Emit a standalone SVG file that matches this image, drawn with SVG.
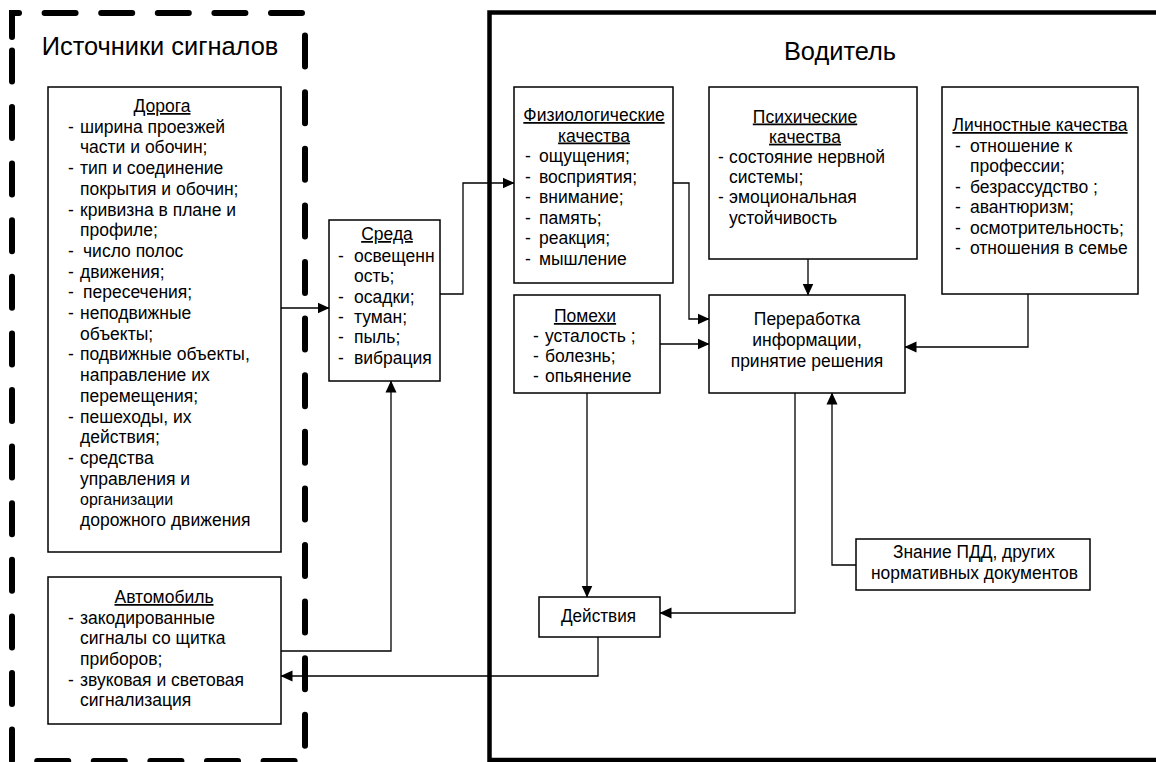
<svg xmlns="http://www.w3.org/2000/svg" width="1156" height="762" viewBox="0 0 1156 762">
<style>
.box{fill:#fff;stroke:#000;stroke-width:1.5}
.t{font-family:"Liberation Sans",Arial,sans-serif;font-size:17.5px;fill:#000}
.s{font-size:16px}
.n{font-size:18px}
.ttl{font-family:"Liberation Sans",Arial,sans-serif;font-size:25.4px;fill:#000}
.u{text-decoration:underline}
.m{text-anchor:middle}
.c{fill:none;stroke:#000;stroke-width:1.3;marker-end:url(#ah)}
</style>
<defs>
<marker id="ah" markerUnits="userSpaceOnUse" markerWidth="12" markerHeight="12" viewBox="0 0 12 12" refX="11.5" refY="6" orient="auto">
<path d="M0,0.5 L12,6 L0,11.5 Z" fill="#000"/>
</marker>
</defs>
<rect width="1156" height="762" fill="#fff"/>

<g id="sources-frame">
<path d="M12,37 V13 H305 V761 H12 Z" fill="none" stroke="#000" stroke-width="6" stroke-linecap="round" stroke-dasharray="31 25.6"/>
<text class="ttl m" x="160" y="55">Источники сигналов</text>
</g>

<g id="driver-frame">
<rect x="489.5" y="12.5" width="720" height="747.5" fill="none" stroke="#000" stroke-width="4.5"/>
<text class="ttl m" x="840" y="60">Водитель</text>
</g>

<g id="road">
<rect class="box" x="48" y="87" width="233" height="465"/>
<text class="t m u" x="162" y="112">Дорога</text>
<text class="t">
<tspan x="68" y="132.7">-</tspan><tspan x="80">ширина проезжей</tspan>
<tspan x="80" y="153.4">части и обочин;</tspan>
<tspan x="68" y="174.1">-</tspan><tspan x="80">тип и соединение</tspan>
<tspan x="80" y="194.8">покрытия и обочин;</tspan>
<tspan x="68" y="215.5">-</tspan><tspan x="80">кривизна в плане и</tspan>
<tspan x="80" y="236.2">профиле;</tspan>
<tspan x="68" y="256.9">-</tspan><tspan x="83">число полос</tspan>
<tspan x="68" y="277.6">-</tspan><tspan x="80">движения;</tspan>
<tspan x="68" y="298.3">-</tspan><tspan x="83">пересечения;</tspan>
<tspan x="68" y="319">-</tspan><tspan x="80">неподвижные</tspan>
<tspan x="80" y="339.7">объекты;</tspan>
<tspan x="68" y="360.4">-</tspan><tspan x="80">подвижные объекты,</tspan>
<tspan x="80" y="381.1">направление их</tspan>
<tspan x="80" y="401.8">перемещения;</tspan>
<tspan x="68" y="422.5">-</tspan><tspan x="80">пешеходы, их</tspan>
<tspan x="80" y="443.2">действия;</tspan>
<tspan x="68" y="463.9">-</tspan><tspan x="80">средства</tspan>
<tspan x="80" y="484.6">управления и</tspan>
<tspan x="80" y="526">дорожного движения</tspan>
</text>
<text class="t s" x="80" y="505.3">организации</text>
</g>

<g id="car">
<rect class="box" x="48" y="577" width="233" height="147"/>
<text class="t m u" x="164" y="603">Автомобиль</text>
<text class="t">
<tspan x="68" y="623.5">-</tspan><tspan x="80">закодированные</tspan>
<tspan x="80" y="644.2">сигналы со щитка</tspan>
<tspan x="80" y="664.9">приборов;</tspan>
<tspan x="68" y="685.6">-</tspan><tspan x="80">звуковая и световая</tspan>
<tspan x="80" y="706.3">сигнализация</tspan>
</text>
</g>

<g id="environment">
<rect class="box" x="329" y="220" width="111" height="161"/>
<text class="t m u" x="387" y="240">Среда</text>
<text class="t">
<tspan x="338" y="262">-</tspan><tspan x="354">освещенн</tspan>
<tspan x="354" y="282.3">ость;</tspan>
<tspan x="338" y="302.6">-</tspan><tspan x="354">осадки;</tspan>
<tspan x="338" y="322.9">-</tspan><tspan x="354">туман;</tspan>
<tspan x="338" y="343.2">-</tspan><tspan x="354">пыль;</tspan>
<tspan x="338" y="363.5">-</tspan><tspan x="354">вибрация</tspan>
</text>
</g>

<g id="physio">
<rect class="box" x="514" y="87" width="159" height="196"/>
<text class="t m u" x="594" y="121">Физиологические</text>
<text class="t m u" x="594" y="141.5">качества</text>
<text class="t">
<tspan x="525" y="162">-</tspan><tspan x="539">ощущения;</tspan>
<tspan x="525" y="182.5">-</tspan><tspan x="539">восприятия;</tspan>
<tspan x="525" y="203">-</tspan><tspan x="539">внимание;</tspan>
<tspan x="525" y="223.5">-</tspan><tspan x="539">память;</tspan>
<tspan x="525" y="244">-</tspan><tspan x="539">реакция;</tspan>
<tspan x="525" y="264.5">-</tspan><tspan x="539">мышление</tspan>
</text>
</g>

<g id="psych">
<rect class="box" x="709" y="87" width="208" height="172"/>
<text class="t m u" x="805" y="122.5">Психические</text>
<text class="t m u" x="805" y="142.7">качества</text>
<text class="t">
<tspan x="718" y="162.9">-</tspan><tspan x="729">состояние нервной</tspan>
<tspan x="729" y="183.1">системы;</tspan>
<tspan x="718" y="203.3">-</tspan><tspan x="729">эмоциональная</tspan>
<tspan x="729" y="223.5">устойчивость</tspan>
</text>
</g>

<g id="personal">
<rect class="box" x="942" y="87" width="196" height="207"/>
<text class="t m u" x="1040" y="131">Личностные качества</text>
<text class="t">
<tspan x="955" y="151.5">-</tspan><tspan x="970">отношение к</tspan>
<tspan x="970" y="172">профессии;</tspan>
<tspan x="955" y="192.5">-</tspan><tspan x="970">безрассудство ;</tspan>
<tspan x="955" y="213">-</tspan><tspan x="970">авантюризм;</tspan>
<tspan x="955" y="233.5">-</tspan><tspan x="970">осмотрительность;</tspan>
<tspan x="955" y="254">-</tspan><tspan x="970">отношения в семье</tspan>
</text>
</g>

<g id="interference">
<rect class="box" x="514" y="295" width="146" height="98"/>
<text class="t m u" x="585" y="322">Помехи</text>
<text class="t">
<tspan x="533" y="342">-</tspan><tspan x="545">усталость ;</tspan>
<tspan x="533" y="362">-</tspan><tspan x="545">болезнь;</tspan>
<tspan x="533" y="382">-</tspan><tspan x="545">опьянение</tspan>
</text>
</g>

<g id="processing">
<rect class="box" x="709" y="295" width="196" height="98"/>
<text class="t m" x="807" y="325">Переработка</text>
<text class="t m" x="807" y="346">информации,</text>
<text class="t m" x="807" y="367">принятие решения</text>
</g>

<g id="knowledge">
<rect class="box" x="856" y="539" width="234" height="51"/>
<text class="t n" x="893" y="558" textLength="162" lengthAdjust="spacingAndGlyphs">Знание ПДД, других</text>
<text class="t n" x="871" y="579" textLength="207" lengthAdjust="spacingAndGlyphs">нормативных документов</text>
</g>

<g id="actions">
<rect class="box" x="539" y="597" width="121" height="40"/>
<text class="t n" x="561" y="622" textLength="75" lengthAdjust="spacingAndGlyphs">Действия</text>
</g>

<g id="connectors">
<path class="c" d="M281,308 H329"/>
<path class="c" d="M281,651 H391 V381"/>
<path class="c" d="M440,294 H463 V183 H514"/>
<path class="c" d="M673,183 H689 V319 H709"/>
<path class="c" d="M660,344 H709"/>
<path class="c" d="M808,259 V295"/>
<path class="c" d="M1028,294 V347 H905"/>
<path class="c" d="M856,565 H832 V393"/>
<path class="c" d="M795,393 V613 H660"/>
<path class="c" d="M587,393 V597"/>
<path class="c" d="M598,637 V676 H281"/>
</g>
</svg>
